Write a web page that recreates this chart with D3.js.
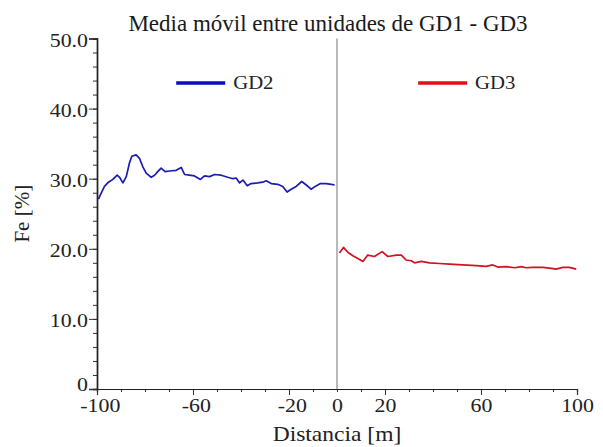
<!DOCTYPE html>
<html>
<head>
<meta charset="utf-8">
<script src="https://cdn.jsdelivr.net/npm/d3@7"></script>
<style>
  html, body { margin: 0; padding: 0; background: #fff; }
  svg { display: block; }
  svg text { font-family: "Liberation Serif", Tinos, "Times New Roman", "DejaVu Serif", serif; }
</style>
</head>
<body>
<svg id="chart" width="603" height="447"></svg>
<script>
// Moving average of Fe across the GD2 / GD3 contact (distance from contact, m)
const gd2Dist = [-99.4, -98.3, -96.9, -95.2, -93.4, -91.6, -90.6, -89.2, -87.8, -86.5, -85.5, -83.7, -82.3, -80.9, -79.5, -77.4, -76.0, -74.7, -73.3, -71.6, -69.8, -67.0, -64.9, -63.5, -61.5, -59.4, -56.9, -55.2, -53.1, -51.0, -48.3, -45.5, -43.4, -42.0, -40.6, -39.2, -37.4, -35.8, -33.0, -30.9, -29.5, -27.4, -24.7, -22.6, -20.8, -19.1, -17.0, -14.7, -12.8, -10.8, -9.1, -6.9, -4.5, -2.4, -1.0];
const gd2Fe = [27.1, 27.9, 28.9, 29.5, 29.9, 30.5, 30.2, 29.4, 30.3, 32.2, 33.2, 33.4, 32.9, 31.7, 30.8, 30.2, 30.5, 31.0, 31.5, 31.0, 31.1, 31.2, 31.6, 30.6, 30.5, 30.4, 29.9, 30.4, 30.3, 30.6, 30.5, 30.2, 30.0, 30.1, 29.4, 29.8, 29.0, 29.3, 29.4, 29.5, 29.7, 29.3, 29.2, 28.9, 28.1, 28.5, 28.9, 29.6, 29.1, 28.5, 28.9, 29.3, 29.3, 29.2, 29.1];

const gd3Dist = [1.0, 2.7, 4.5, 6.6, 8.7, 10.8, 12.8, 15.6, 18.8, 21.2, 24.7, 26.8, 28.8, 30.9, 32.3, 35.1, 38.5, 42.7, 46.9, 52.4, 58.0, 62.2, 64.9, 67.0, 70.5, 74.0, 76.8, 78.8, 81.6, 85.8, 89.3, 91.3, 94.1, 96.9, 99.7];
const gd3Fe = [19.4, 20.2, 19.5, 19.0, 18.6, 18.2, 19.1, 18.9, 19.6, 18.9, 19.1, 19.1, 18.4, 18.3, 18.0, 18.2, 18.0, 17.9, 17.8, 17.7, 17.6, 17.5, 17.7, 17.4, 17.45, 17.3, 17.45, 17.3, 17.35, 17.35, 17.2, 17.1, 17.35, 17.35, 17.1];

const seriesNames = ["GD2", "GD3"];
const seriesColors = ["#1c1cae", "#d01222"];
const legendColors = ["#0a0ac8", "#e01018"];

const xLabelTicks = [-100, -60, -20, 0, 20, 60, 100];
const xMajorTicks = [-100, -60, -20, 20, 60, 100];
const xMinorTicks = d3.range(-100, 101, 10);
const yLabelTicks = [0, 10, 20, 30, 40, 50];
const yMinorTicks = d3.range(0, 51, 2);

const titleText = "Media móvil entre unidades de GD1 - GD3";
const xTitle = "Distancia [m]";
const yTitle = "Fe [%]";

const svg = d3.select("#chart");

const x = d3.scaleLinear().domain([-100, 100]).range([97, 577]);
const y = d3.scaleLinear().domain([0, 50]).range([389, 38.5]);

// slightly wide lettering: stretch each text horizontally by factor k
function widen(sel, k) {
  sel.each(function () {
    const w = this.getComputedTextLength();
    d3.select(this).attr("textLength", w * k).attr("lengthAdjust", "spacingAndGlyphs");
  });
}

// zero-distance contact line
svg.append("line")
  .attr("x1", x(0)).attr("x2", x(0))
  .attr("y1", y(50)).attr("y2", y(0))
  .attr("stroke", "#8a8a8a").attr("stroke-width", 1.2);

// y axis: minor ticks every 2, labelled ticks every 10
const yAxisG = svg.append("g").attr("transform", `translate(${x(-100)},0)`);
yAxisG.call(d3.axisLeft(y).tickValues(yMinorTicks).tickSize(4).tickFormat(""));
yAxisG.append("g").call(d3.axisLeft(y).tickValues(yLabelTicks).tickSize(8)
  .tickFormat(d => d === 0 ? "0" : d3.format(".1f")(d)));
yAxisG.selectAll("g").attr("font-family", null);
yAxisG.attr("font-family", null);
yAxisG.selectAll(".domain").attr("stroke", "#222").attr("stroke-width", 1.4);
yAxisG.selectAll("line").attr("stroke", "#333");
yAxisG.selectAll("text")
  .attr("font-size", 19).attr("fill", "#222").attr("x", -9)
  .attr("dy", d => d === 0 ? "0.1em" : "0.4em");
widen(yAxisG.selectAll("text"), 1.15);

// x axis: minor ticks every 10, major ticks every 40
const xAxisG = svg.append("g").attr("transform", `translate(0,${y(0)})`);
xAxisG.call(d3.axisBottom(x).tickValues(xMinorTicks).tickSize(3).tickFormat(""));
xAxisG.append("g").call(d3.axisBottom(x).tickValues(xMajorTicks).tickSize(6).tickFormat(""));
xAxisG.append("g").call(d3.axisBottom(x).tickValues(xLabelTicks).tickSize(0)
  .tickFormat(d => String(d)));
xAxisG.selectAll("g").attr("font-family", null);
xAxisG.attr("font-family", null);
xAxisG.selectAll(".domain").attr("stroke", "#222").attr("stroke-width", 1.2);
xAxisG.selectAll("line").attr("stroke", "#333");
xAxisG.selectAll("text")
  .attr("font-size", 19).attr("fill", "#222").attr("y", 6).attr("dy", "0.9em")
  .attr("dx", d => d < 0 ? "0.15em" : 0);
widen(xAxisG.selectAll("text"), 1.15);

// series lines
const line = d3.line().x(d => x(d[0])).y(d => y(d[1]));
const series = [
  d3.zip(gd2Dist, gd2Fe),
  d3.zip(gd3Dist, gd3Fe)
];
series.forEach((pts, i) => {
  svg.append("path")
    .datum(pts)
    .attr("d", line)
    .attr("fill", "none")
    .attr("stroke", seriesColors[i])
    .attr("stroke-width", 1.7)
    .attr("stroke-linejoin", "round");
});

// legend
const legendX = [-67, 33.8];
seriesNames.forEach((name, i) => {
  const lx = x(legendX[i]);
  svg.append("line")
    .attr("x1", lx).attr("x2", lx + 49)
    .attr("y1", 83).attr("y2", 83)
    .attr("stroke", legendColors[i]).attr("stroke-width", 3.5);
  const t = svg.append("text")
    .attr("x", lx + 57).attr("y", 89)
    .attr("font-size", 18).attr("fill", "#222")
    .text(name);
  widen(t, 1.15);
});

// titles
svg.append("text")
  .attr("x", 328).attr("y", 31)
  .attr("text-anchor", "middle")
  .attr("font-size", 23).attr("fill", "#1a1a1a")
  .text(titleText);

const xt = svg.append("text")
  .attr("x", x(0)).attr("y", 441)
  .attr("text-anchor", "middle")
  .attr("font-size", 21).attr("fill", "#222")
  .text(xTitle);
widen(xt, 1.12);

svg.append("text")
  .attr("transform", `translate(29,${y(25)}) rotate(-90)`)
  .attr("text-anchor", "middle")
  .attr("font-size", 21).attr("fill", "#222")
  .text(yTitle);
</script>
</body>
</html>
